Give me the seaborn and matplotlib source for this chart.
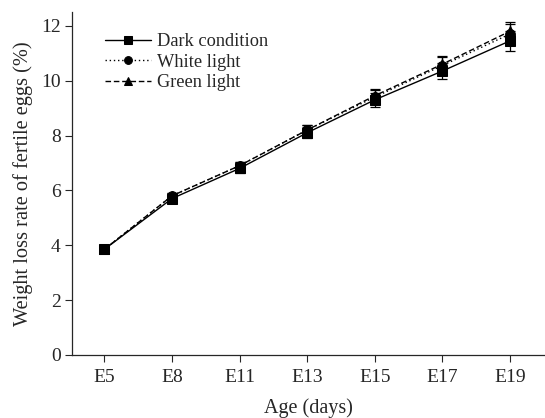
import numpy as np
import pandas as pd
import matplotlib
matplotlib.use("Agg")
import matplotlib.pyplot as plt
import seaborn as sns

ages = ["E5", "E8", "E11", "E13", "E15", "E17", "E19"]
dark = [3.85, 5.70, 6.80, 8.10, 9.30, 10.35, 11.45]
white = [3.85, 5.80, 6.90, 8.20, 9.40, 10.55, 11.70]
green = [3.85, 5.80, 6.90, 8.20, 9.45, 10.60, 11.80]
dark_err = [0.08, 0.12, 0.15, 0.20, 0.25, 0.30, 0.35]
white_err = [0.08, 0.12, 0.15, 0.20, 0.25, 0.30, 0.35]
green_err = [0.08, 0.12, 0.15, 0.20, 0.25, 0.30, 0.35]
groups = ["Dark condition", "White light", "Green light"]

sns.set_style("ticks")
plt.rcParams["font.family"] = ["Liberation Serif", "DejaVu Serif"]

df = pd.DataFrame({
    "Age": ages * 3,
    "Rate": dark + white + green,
    "Group": [groups[0]] * len(ages) + [groups[1]] * len(ages) + [groups[2]] * len(ages),
})

fig = plt.figure(figsize=(5.45, 4.18), dpi=100)
ax = fig.add_axes([0.132, 0.151, 0.868, 0.82])

sns.lineplot(
    data=df, x="Age", y="Rate", hue="Group", style="Group",
    palette=["black"] * 3,
    markers={groups[0]: "s", groups[1]: "o", groups[2]: "^"},
    dashes={groups[0]: "", groups[1]: (1, 2), groups[2]: (4, 2)},
    markersize=7, markeredgecolor="black", linewidth=1.0, ax=ax,
)

pos = np.arange(len(ages))
for vals, errs in [(dark, dark_err), (white, white_err), (green, green_err)]:
    ax.errorbar(pos, vals, yerr=errs, fmt="none", ecolor="black",
                elinewidth=0.9, capsize=3.5, capthick=0.9)

ax.set_xlim(-0.48, 6.52)
ax.set_ylim(0, 12.5)
ax.set_yticks([0, 2, 4, 6, 8, 10, 12])
ax.set_xlabel("Age (days)", fontsize=14.5, labelpad=9)
ax.set_ylabel("Weight loss rate of fertile eggs (%)", fontsize=14.7, labelpad=6)
ax.tick_params(axis="y", labelsize=14, direction="out", length=5, width=0.8, pad=3)
ax.tick_params(axis="x", labelsize=14, direction="out", length=5, width=0.8, pad=5)
sns.despine(ax=ax)
for s in ["left", "bottom"]:
    ax.spines[s].set_linewidth(0.9)

leg = ax.legend(loc="upper left", bbox_to_anchor=(0.055, 0.96), frameon=False,
                fontsize=13.2, handlelength=2.5, handletextpad=0.3,
                labelspacing=0.2, borderaxespad=0, markerscale=0.8)

fig.savefig("out.png", dpi=100)
